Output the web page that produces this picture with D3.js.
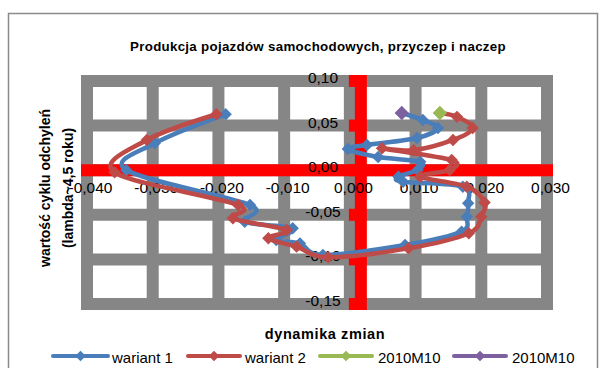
<!DOCTYPE html>
<html>
<head>
<meta charset="utf-8">
<script src="https://cdn.jsdelivr.net/npm/d3@7"></script>
<style>
  html, body { margin: 0; padding: 0; background: #fff; }
  svg { display: block; }
  text { font-family: "Liberation Sans", Arial, sans-serif; fill: #000; }
</style>
</head>
<body>
<svg id="chart" width="605" height="368"></svg>
<script>
// Cycle plot: monthly dynamics (x) against the cycle deviation (y)
const chartTitle = "Produkcja pojazdów samochodowych, przyczep i naczep";
const xTitle = "dynamika zmian";
const yTitleLines = ["wartość cyklu odchyleń", "(lambda~4,5 roku)"];

const xTicks = [-0.04, -0.03, -0.02, -0.01, 0, 0.01, 0.02, 0.03];
const xTickLabels = ["-0,040", "-0,030", "-0,020", "-0,010", "0,000", "0,010", "0,020", "0,030"];
const yTicks = [0.10, 0.05, 0, -0.05, -0.10, -0.15];
const yTickLabels = ["0,10", "0,05", "0,00", "-0,05", "-0,10", "-0,15"];

// wariant 1
const w1X = [-0.0189, -0.0297, -0.0340, -0.0152, -0.0160, -0.0087, -0.0112, -0.0076, -0.0041,
             0.0084, 0.0170, 0.0178, 0.0180, 0.0172, 0.0081, 0.0074, 0.0103, 0.0107,
             0.0043, -0.0003, 0.0026, 0.0102, 0.0134, 0.0111, 0.0079];
const w1Y = [0.0627, 0.0302, 0.0000, -0.0390, -0.0577, -0.0651, -0.0783, -0.0820, -0.0950,
             -0.0839, -0.0689, -0.0521, -0.0371, -0.0185, -0.0129, -0.0073, 0.0002, 0.0095,
             0.0148, 0.0238, 0.0283, 0.0361, 0.0473, 0.0563, 0.0641];
// wariant 2
const w2X = [-0.0203, -0.0309, -0.0358, -0.0170, -0.0178, -0.0096, -0.0124, -0.0081, -0.0033,
             0.0089, 0.0181, 0.0200, 0.0205, 0.0178, 0.0107, 0.0152, 0.0155, 0.0049,
             0.0097, 0.0157, 0.0187, 0.0163, 0.0137];
const w2Y = [0.0627, 0.0338, -0.0024, -0.0390, -0.0539, -0.0670, -0.0763, -0.0857, -0.0976,
             -0.0876, -0.0707, -0.0521, -0.0362, -0.0185, -0.0073, 0.0002, 0.0114, 0.0246,
             0.0224, 0.0339, 0.0473, 0.0598, 0.0641];
// latest month of each variant
const lastW2X = [0.0137], lastW2Y = [0.0641];
const lastW1X = [0.0079], lastW1Y = [0.0641];

const seriesNames = ["wariant 1", "wariant 2", "2010M10", "2010M10"];
const seriesColors = ["#4A7EBB", "#BE4B48", "#98B954", "#7D60A0"];

const svg = d3.select("#chart");
const GRID = "#868686", AXIS = "#FF0000";

const x = d3.scaleLinear().domain([-0.04, 0.03]).range([87, 547]);
const y = d3.scaleLinear().domain([-0.15, 0.10]).range([304, 81]);
const band = 12;

// outer chart border
svg.append("rect").attr("x", 8.5).attr("y", 13.5).attr("width", 589).attr("height", 370)
  .attr("fill", "none").attr("stroke", "#8a8a8a").attr("stroke-width", 1.5);

// title
svg.append("text").attr("x", 318).attr("y", 46).attr("text-anchor", "middle")
  .attr("dominant-baseline", "central").style("font-weight", "bold").style("font-size", "13.3px")
  .style("letter-spacing", "0.3px").text(chartTitle);

// thick grey gridlines
const grid = svg.append("g");
grid.selectAll("line.v").data(xTicks).join("line").attr("class", "v")
  .attr("x1", d => x(d)).attr("x2", d => x(d))
  .attr("y1", y(0.10) - band / 2).attr("y2", y(-0.15) + band / 2)
  .attr("stroke", GRID).attr("stroke-width", band);
grid.selectAll("line.h").data(yTicks).join("line").attr("class", "h")
  .attr("y1", d => y(d)).attr("y2", d => y(d))
  .attr("x1", x(-0.04) - band / 2).attr("x2", x(0.03) + band / 2)
  .attr("stroke", GRID).attr("stroke-width", band);

// red axis lines; the vertical one carries short outside tick marks
const axisX0 = x(0) + 11;
const ax = svg.append("g");
ax.append("line").attr("x1", x(-0.04) - band / 2).attr("x2", x(0.03) + band / 2)
  .attr("y1", y(0)).attr("y2", y(0)).attr("stroke", AXIS).attr("stroke-width", band);
ax.append("line").attr("x1", axisX0).attr("x2", axisX0)
  .attr("y1", y(0.10) - band / 2).attr("y2", y(-0.15) + band / 2)
  .attr("stroke", AXIS).attr("stroke-width", band);
ax.selectAll("line.yt").data(yTicks).join("line").attr("class", "yt")
  .attr("y1", d => y(d)).attr("y2", d => y(d))
  .attr("x1", axisX0 - band / 2 - 6).attr("x2", axisX0)
  .attr("stroke", AXIS).attr("stroke-width", band);

// tick labels through d3 axes
const yAxis = d3.axisLeft(y).tickValues(yTicks)
  .tickFormat((d, i) => yTickLabels[i]).tickSize(0).tickPadding(0);
const yg = svg.append("g").attr("transform", "translate(323,0)").call(yAxis);
yg.select(".domain").remove();
yg.selectAll("text").attr("x", 0).attr("dy", null).attr("y", -4)
  .attr("dominant-baseline", "central").attr("text-anchor", "middle")
  .style("font-size", "15.5px").style("font-family", "Liberation Sans, Arial, sans-serif").attr("fill", "#000");

const xAxis = d3.axisBottom(x).tickValues(xTicks)
  .tickFormat((d, i) => xTickLabels[i]).tickSize(0).tickPadding(0);
const xg = svg.append("g").attr("transform", "translate(3,187)").call(xAxis);
xg.select(".domain").remove();
xg.selectAll("text").attr("y", 0).attr("dy", null)
  .attr("dominant-baseline", "central").attr("text-anchor", "middle")
  .style("font-size", "15.5px").style("font-family", "Liberation Sans, Arial, sans-serif").attr("fill", "#000");

// axis titles
svg.append("text").attr("x", 325).attr("y", 334).attr("text-anchor", "middle")
  .attr("dominant-baseline", "central").style("font-weight", "bold").style("font-size", "14.5px")
  .style("letter-spacing", "0.6px").text(xTitle);
const yt = svg.append("g").attr("transform", "translate(45,188) rotate(-90)");
yt.selectAll("text").data(yTitleLines).join("text")
  .attr("x", 0).attr("y", (d, i) => i * 23).attr("text-anchor", "middle")
  .attr("dominant-baseline", "central").style("font-weight", "bold").style("font-size", "14px")
  .text(d => d);

// series: smoothed lines with square-diamond markers
const line = d3.line().x(d => x(d[0])).y(d => y(d[1])).curve(d3.curveCardinal.tension(0));
const marker = d3.symbol().type(d3.symbolSquare);
const series = [
  { xs: w1X, ys: w1Y, color: seriesColors[0] },
  { xs: w2X, ys: w2Y, color: seriesColors[1] },
  { xs: lastW2X, ys: lastW2Y, color: seriesColors[2] },
  { xs: lastW1X, ys: lastW1Y, color: seriesColors[3] }
];
series.forEach(s => {
  const pts = d3.zip(s.xs, s.ys);
  const g = svg.append("g");
  if (pts.length > 1) {
    g.append("path").attr("d", line(pts)).attr("fill", "none")
      .attr("stroke", s.color).attr("stroke-width", 4.5)
      .attr("stroke-linejoin", "round").attr("stroke-linecap", "round");
  }
  g.selectAll("path.m").data(pts).join("path").attr("class", "m")
    .attr("transform", d => `translate(${x(d[0])},${y(d[1])}) rotate(45)`)
    .attr("d", marker.size(pts.length > 1 ? 28 : 44)())
    .attr("fill", s.color).attr("stroke", s.color).attr("stroke-width", 3.5)
    .attr("stroke-linejoin", "miter");
});

// legend
const legendItems = [
  { name: seriesNames[0], color: seriesColors[0], x1: 53, x2: 108, tx: 112 },
  { name: seriesNames[1], color: seriesColors[1], x1: 188, x2: 240, tx: 245 },
  { name: seriesNames[2], color: seriesColors[2], x1: 320, x2: 372, tx: 378 },
  { name: seriesNames[3], color: seriesColors[3], x1: 454, x2: 506, tx: 512 }
];
const lg = svg.append("g");
legendItems.forEach(it => {
  lg.append("line").attr("x1", it.x1).attr("x2", it.x2).attr("y1", 356).attr("y2", 356)
    .attr("stroke", it.color).attr("stroke-width", 4).attr("stroke-linecap", "round");
  lg.append("path").attr("transform", `translate(${(it.x1 + it.x2) / 2},356) rotate(45)`)
    .attr("d", marker.size(30)()).attr("fill", it.color).attr("stroke", it.color).attr("stroke-width", 2);
  lg.append("text").attr("x", it.tx).attr("y", 357).attr("dominant-baseline", "central")
    .style("font-size", "15px").text(it.name);
});
</script>
</body>
</html>
